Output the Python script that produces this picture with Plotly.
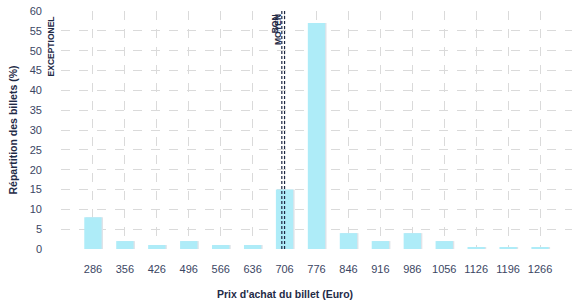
import plotly.graph_objects as go

prices = [286, 356, 426, 496, 566, 636, 706, 776, 846, 916, 986, 1056, 1126, 1196, 1266]
shares = [8, 2, 1, 2, 1, 1, 15, 57, 4, 2, 4, 2, 0.3, 0.3, 0.3]
ref_names = ["BON", "MOYEN"]
ref_values = [700, 706]
exc_label = "EXCEPTIONEL"
y_ticks = list(range(0, 61, 5))
x_title = "Prix d'achat du billet (Euro)"
y_title = "Répartition des billets (%)"

bar_color = "#aeecf8"
shadow_color = "#dfe3e8"
text_color = "#3b4663"
title_color = "#1f2b47"
grid_color = "#dadada"
font_family = "Liberation Sans, Arial, sans-serif"

fig = go.Figure()
fig.add_trace(go.Bar(x=[p + 3 for p in prices], y=shares, width=38,
                     marker=dict(color=shadow_color, line=dict(width=0)),
                     hoverinfo="skip", showlegend=False))
fig.add_trace(go.Bar(x=prices, y=shares, width=38,
                     marker=dict(color=bar_color, line=dict(width=0)),
                     showlegend=False))

for name, val in zip(ref_names, ref_values):
    fig.add_shape(type="line", xref="x", yref="paper", x0=val, x1=val, y0=0, y1=1,
                  line=dict(color="#1e2844", width=1.2, dash="3px,2px"))
    fig.add_annotation(xref="x", yref="paper", x=val, y=1, yshift=-1,
                       xanchor="right", yanchor="top", text=f"<b>{name}</b>",
                       textangle=-90, showarrow=False,
                       font=dict(size=8.5, color=title_color, family=font_family))

fig.add_annotation(xref="paper", yref="paper", x=-0.005, y=1, yshift=-3,
                   xanchor="right", yanchor="top", text=f"<b>{exc_label}</b>",
                   textangle=-90, showarrow=False,
                   font=dict(size=8.5, color=title_color, family=font_family))

fig.add_annotation(xref="paper", yref="paper", x=0.438, y=-0.19,
                   xanchor="center", yanchor="middle", text=f"<b>{x_title}</b>",
                   showarrow=False,
                   font=dict(size=10.5, color=title_color, family=font_family))

fig.update_layout(
    width=577, height=300,
    margin=dict(l=61, r=5, t=7, b=51),
    paper_bgcolor="white", plot_bgcolor="white",
    barmode="overlay",
    font=dict(family=font_family, size=11, color=text_color),
    xaxis=dict(range=[216, 1336], tickvals=prices, ticktext=[str(p) for p in prices],
               showgrid=True, gridcolor=grid_color, griddash="dash", gridwidth=1,
               zeroline=False, showline=False, ticks="", ticklabelstandoff=12,
               tickfont=dict(size=11, color=text_color)),
    yaxis=dict(range=[0, 60], tickvals=y_ticks,
               showgrid=True, gridcolor=grid_color, griddash="dash", gridwidth=1,
               zeroline=False, showline=False, ticks="", ticklabelstandoff=18,
               tickfont=dict(size=11, color=text_color),
               title=dict(text=f"<b>{y_title}</b>",
                          font=dict(size=10.5, color=title_color), standoff=10)),
)

fig.write_html("out.html")
